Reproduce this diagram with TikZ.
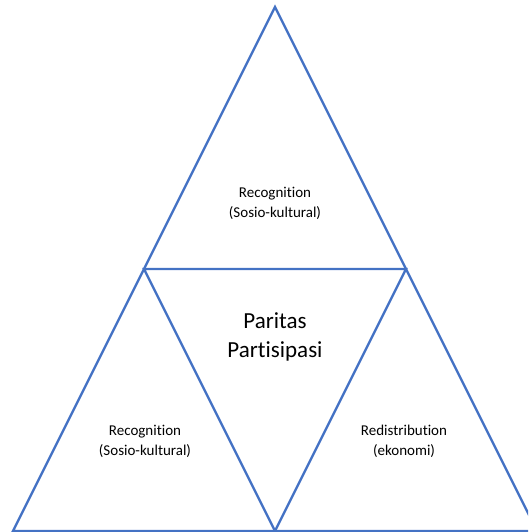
\documentclass[tikz,border=0pt]{standalone}
\usepackage{fontspec}
\setmainfont[Ligatures=NoCommon]{Carlito}
\definecolor{edgeblue}{HTML}{4472C4}

\begin{document}
\begin{tikzpicture}[x=1pt,y=-1pt,line width=2.4pt,line join=miter,
  side/.style={draw=edgeblue},
  small/.style={align=center,font=\fontsize{15}{20}\selectfont,inner sep=0pt},
  big/.style={align=center,font=\fontsize{23}{29}\selectfont,inner sep=0pt}]
  \useasboundingbox (0,0) rectangle (528,532);
  \coordinate (top) at (275,7);
  \coordinate (left) at (13,531);
  \coordinate (right) at (537,531);
  \coordinate (ml) at (144,269);
  \coordinate (mr) at (406,269);
  \coordinate (mb) at (275,531);
  \begin{scope}
    \clip (0,0) rectangle (528,532);
    \draw[side] (top) -- (left) -- (right) -- cycle;
    \draw[side] (ml) -- (mr) -- (mb) -- cycle;
  \end{scope}
  \node[small] (rec1) at (275,203) {Recognition\\(Sosio-kultural)};
  \node[big] (pp) at (275,337) {Paritas\\Partisipasi};
  \node[small] (rec2) at (145,441) {Recognition\\(Sosio-kultural)};
  \node[small] (redis) at (404,441) {Redistribution\\(ekonomi)};
\end{tikzpicture}
\end{document}
